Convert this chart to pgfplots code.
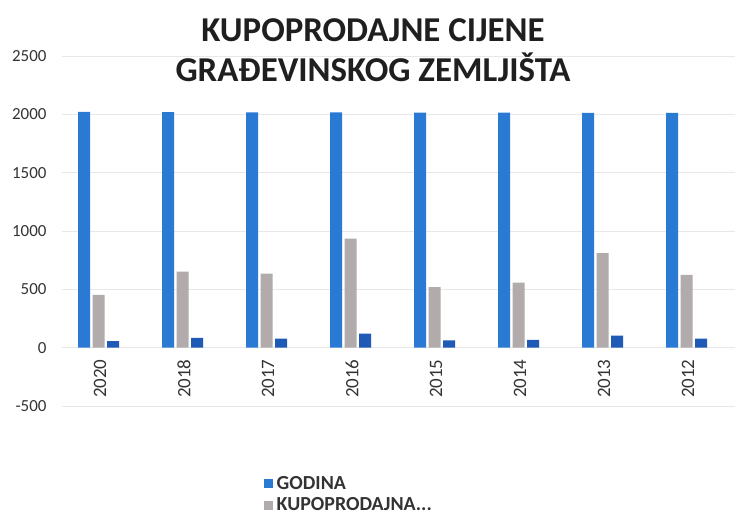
\documentclass[border=0pt]{standalone}
\usepackage{fontspec}
\setmainfont{Carlito}
\usepackage{pgfplots}
\pgfplotsset{compat=1.18}
\definecolor{cblue}{HTML}{2A7AD4}
\definecolor{cgray}{HTML}{B2ABAB}
\definecolor{cdark}{HTML}{1F5AB6}
\definecolor{ctxt}{HTML}{333333}
\begin{document}
\begin{tikzpicture}[x=1bp,y=1bp]
\path[use as bounding box] (0,0) rectangle (735,522);
\begin{axis}[
  at={(62bp,116bp)}, anchor=south west,
  scale only axis, width=673bp, height=350bp,
  xmin=-0.435, xmax=7.577, ymin=-500, ymax=2500,
  ytick={-500,0,500,1000,1500,2000,2500},
  xtick={0,1,2,3,4,5,6,7},
  xticklabels={2020,2018,2017,2016,2015,2014,2013,2012},
  axis line style={draw=none},
  major tick length=0pt,
  ymajorgrids, grid style={color=black!9, line width=0.8bp},
  /pgf/number format/assume math mode=true,
  /pgf/number format/1000 sep={},
  yticklabel style={font=\fontsize{17}{20}\selectfont, text=ctxt, xshift=-12bp},
  xticklabel style={font=\fontsize{19}{22}\selectfont, text=ctxt, yshift=50bp, xshift=1.5bp, rotate=90, anchor=east},
  ybar, bar width=12bp,
  legend style={at={(0.295,-0.19)}, anchor=north west, draw=none, fill=none,
    font=\bfseries\fontsize{20}{22}\selectfont, text=ctxt, row sep=2.5bp,
    nodes={inner xsep=4bp}},
  legend cell align=left,
  legend image code/.code={\draw[#1,draw=none] (0bp,-4.5bp) rectangle (9bp,4.5bp);},
]
\addplot[fill=cblue, draw=none, bar shift=-14.5bp] coordinates {
 (0,2020) (1,2018) (2,2017) (3,2016) (4,2015) (5,2014) (6,2013) (7,2012)};
\addlegendentry{GODINA}
\addplot[fill=cgray, draw=none, bar shift=0bp] coordinates {
 (0,452) (1,652) (2,635) (3,935) (4,518) (5,557) (6,810) (7,623)};
\addlegendentry{KUPOPRODAJNA...}
\addplot[fill=cdark, draw=none, bar shift=14.5bp] coordinates {
 (0,55) (1,83) (2,77) (3,120) (4,63) (5,66) (6,103) (7,77)};
\end{axis}
\node[anchor=base, font=\bfseries\fontsize{35}{38}\selectfont, text=black!88] at (373,480) {KUPOPRODAJNE CIJENE};
\node[anchor=base, font=\bfseries\fontsize{35}{38}\selectfont, text=black!88] at (373,440) {GRAĐEVINSKOG ZEMLJIŠTA};
\end{tikzpicture}
\end{document}
